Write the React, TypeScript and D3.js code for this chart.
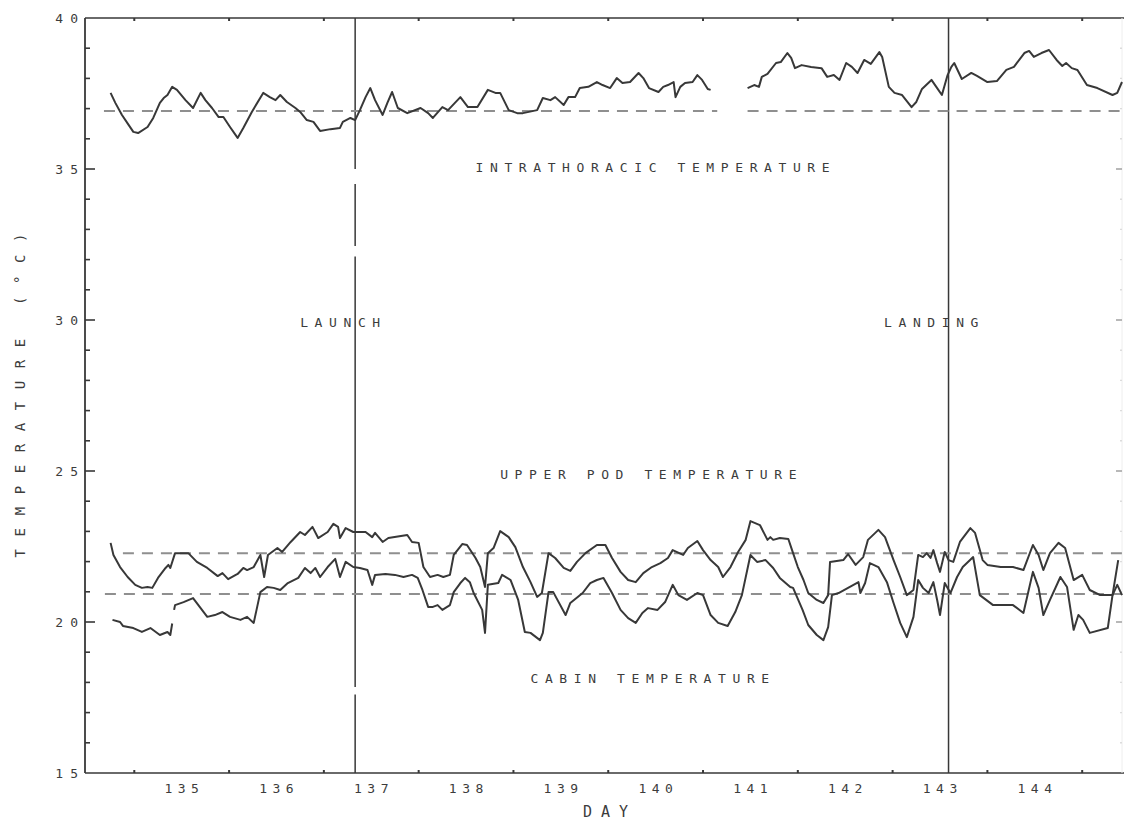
import React from "react";
import { scaleLinear, line, range } from "d3";

const svgWidth = 1124;
const svgHeight = 821;
const margin = { top: 18, right: 2, bottom: 48, left: 85 };
const minorTick = 5;
const majorTick = 10;
const fontFamily = "'DejaVu Sans Mono', 'Liberation Mono', monospace";
const ink = "#383838";

// day-of-year x temperature (°C)
const thoracicBeforeGap: [number, number][] = [
  [134.75, 37.52], [134.8, 37.19], [134.87, 36.79], [134.94, 36.46], [134.99, 36.23],
  [135.04, 36.19], [135.14, 36.39], [135.2, 36.69], [135.27, 37.19], [135.31, 37.35],
  [135.35, 37.45], [135.4, 37.72], [135.45, 37.62], [135.54, 37.28], [135.62, 37.02],
  [135.7, 37.52], [135.75, 37.28], [135.82, 37.02], [135.89, 36.72], [135.94, 36.72],
  [136.01, 36.39], [136.09, 36.03], [136.15, 36.36], [136.24, 36.89], [136.36, 37.52],
  [136.43, 37.38], [136.49, 37.28], [136.54, 37.45], [136.61, 37.22], [136.7, 37.02],
  [136.75, 36.89], [136.82, 36.62], [136.89, 36.56], [136.96, 36.26], [137.07, 36.32],
  [137.17, 36.36], [137.2, 36.56], [137.28, 36.69], [137.33, 36.62], [137.38, 36.95],
  [137.44, 37.38], [137.49, 37.68], [137.54, 37.28], [137.62, 36.79], [137.67, 37.19],
  [137.72, 37.55], [137.78, 37.02], [137.88, 36.85], [138.02, 37.02], [138.1, 36.85],
  [138.15, 36.69], [138.25, 37.05], [138.31, 36.95], [138.44, 37.38], [138.52, 37.05],
  [138.62, 37.05], [138.73, 37.62], [138.81, 37.52], [138.86, 37.52], [138.95, 36.95],
  [139.04, 36.85], [139.1, 36.85], [139.25, 36.95], [139.31, 37.35], [139.39, 37.28],
  [139.44, 37.38], [139.53, 37.12], [139.58, 37.38], [139.65, 37.38], [139.7, 37.68],
  [139.79, 37.72], [139.88, 37.88], [139.94, 37.78], [140.02, 37.68], [140.09, 38.01],
  [140.15, 37.85], [140.23, 37.88], [140.32, 38.18], [140.37, 38.01], [140.43, 37.68],
  [140.53, 37.55], [140.58, 37.72], [140.63, 37.78], [140.69, 37.88], [140.71, 37.38],
  [140.76, 37.72], [140.81, 37.85], [140.89, 37.88], [140.94, 38.11], [140.99, 37.95],
  [141.05, 37.65], [141.08, 37.62],
];

const thoracicAfterGap: [number, number][] = [
  [141.47, 37.68], [141.54, 37.78], [141.59, 37.72], [141.62, 38.05], [141.68, 38.15],
  [141.77, 38.51], [141.82, 38.54], [141.89, 38.84], [141.93, 38.68], [141.97, 38.34],
  [142.04, 38.44], [142.14, 38.38], [142.25, 38.34], [142.31, 38.05], [142.38, 38.11],
  [142.44, 37.95], [142.51, 38.51], [142.57, 38.38], [142.63, 38.18], [142.7, 38.61],
  [142.77, 38.48], [142.86, 38.87], [142.89, 38.71], [142.96, 37.72], [143.02, 37.52],
  [143.1, 37.45], [143.2, 37.05], [143.25, 37.22], [143.31, 37.65], [143.41, 37.95],
  [143.47, 37.68], [143.52, 37.45], [143.58, 38.11], [143.62, 38.38], [143.65, 38.51],
  [143.73, 37.98], [143.83, 38.18], [143.89, 38.08], [144.0, 37.88], [144.1, 37.91],
  [144.2, 38.28], [144.28, 38.38], [144.39, 38.84], [144.44, 38.91], [144.49, 38.71],
  [144.57, 38.84], [144.65, 38.94], [144.73, 38.61], [144.79, 38.41], [144.83, 38.51],
  [144.89, 38.34], [144.95, 38.28], [145.05, 37.78], [145.16, 37.68], [145.32, 37.45],
  [145.37, 37.52], [145.42, 37.88],
];

const upperPod: [number, number][] = [
  [134.75, 22.62], [134.78, 22.22], [134.85, 21.82], [134.93, 21.49], [135.01, 21.23],
  [135.08, 21.13], [135.14, 21.16], [135.19, 21.13], [135.25, 21.46], [135.33, 21.79],
  [135.36, 21.89], [135.38, 21.79], [135.43, 22.28], [135.57, 22.28], [135.66, 21.99],
  [135.77, 21.79], [135.88, 21.52], [135.93, 21.62], [135.99, 21.42], [136.09, 21.59],
  [136.15, 21.79], [136.19, 21.72], [136.26, 21.82], [136.33, 22.22], [136.37, 21.49],
  [136.41, 22.22], [136.51, 22.45], [136.56, 22.32], [136.65, 22.65], [136.75, 22.98],
  [136.8, 22.88], [136.88, 23.15], [136.94, 22.78], [137.04, 22.98], [137.1, 23.25],
  [137.15, 23.15], [137.17, 22.78], [137.23, 23.11], [137.31, 22.98], [137.44, 22.98],
  [137.51, 22.81], [137.54, 22.95], [137.62, 22.65], [137.68, 22.78], [137.88, 22.88],
  [137.93, 22.65], [138.0, 22.62], [138.05, 21.82], [138.12, 21.49], [138.2, 21.56],
  [138.26, 21.49], [138.33, 21.56], [138.37, 22.22], [138.46, 22.58], [138.51, 22.55],
  [138.6, 22.12], [138.65, 21.82], [138.7, 21.16], [138.73, 22.28], [138.79, 22.45],
  [138.86, 23.01], [138.95, 22.81], [139.02, 22.48], [139.1, 21.82], [139.18, 21.32],
  [139.25, 20.83], [139.3, 20.96], [139.37, 22.28], [139.44, 22.12], [139.53, 21.79],
  [139.6, 21.69], [139.67, 21.99], [139.76, 22.28], [139.88, 22.55], [139.97, 22.55],
  [140.04, 22.12], [140.13, 21.66], [140.21, 21.39], [140.29, 21.32], [140.37, 21.62],
  [140.46, 21.82], [140.55, 21.95], [140.63, 22.12], [140.68, 22.38], [140.79, 22.22],
  [140.84, 22.45], [140.94, 22.68], [141.0, 22.38], [141.08, 22.05], [141.16, 21.82],
  [141.21, 21.49], [141.29, 21.82], [141.37, 22.32], [141.45, 22.72], [141.5, 23.34],
  [141.6, 23.21], [141.68, 22.72], [141.71, 22.81], [141.74, 22.72], [141.81, 22.78],
  [141.9, 22.75], [141.95, 22.28], [142.0, 21.82], [142.06, 21.39], [142.11, 20.96],
  [142.2, 20.73], [142.27, 20.63], [142.32, 20.89], [142.34, 21.99], [142.48, 22.05],
  [142.53, 22.25], [142.61, 21.89], [142.69, 22.15], [142.74, 22.72], [142.85, 23.05],
  [142.92, 22.81], [143.01, 22.05], [143.08, 21.49], [143.15, 20.89], [143.22, 21.06],
  [143.27, 22.22], [143.32, 22.15], [143.36, 22.28], [143.4, 22.12], [143.43, 22.38],
  [143.47, 21.95], [143.5, 21.66], [143.55, 22.32], [143.59, 22.05], [143.64, 21.99],
  [143.71, 22.65], [143.82, 23.11], [143.87, 22.95], [143.95, 22.05], [144.0, 21.89],
  [144.14, 21.82], [144.27, 21.82], [144.38, 21.72], [144.48, 22.55], [144.54, 22.22],
  [144.59, 21.72], [144.66, 22.28], [144.75, 22.62], [144.82, 22.45], [144.91, 21.39],
  [145.0, 21.56], [145.08, 21.06], [145.19, 20.89], [145.32, 20.89], [145.38, 22.05],
];

const cabinBeforeGap: [number, number][] = [
  [134.77, 20.07], [134.85, 20.0], [134.88, 19.87], [134.99, 19.8], [135.08, 19.67],
  [135.17, 19.8], [135.27, 19.57], [135.35, 19.67], [135.38, 19.57], [135.4, 19.95],
];

const cabinAfterGap: [number, number][] = [
  [135.42, 20.4], [135.43, 20.56], [135.52, 20.66], [135.62, 20.79], [135.7, 20.46],
  [135.77, 20.17], [135.85, 20.23], [135.93, 20.33], [136.01, 20.17], [136.12, 20.07],
  [136.19, 20.17], [136.26, 19.97], [136.33, 20.99], [136.4, 21.16], [136.47, 21.13],
  [136.54, 21.06], [136.62, 21.29], [136.73, 21.46], [136.8, 21.79], [136.86, 21.62],
  [136.91, 21.79], [136.96, 21.49], [137.04, 21.82], [137.12, 22.09], [137.17, 21.49],
  [137.23, 21.99], [137.31, 21.82], [137.38, 21.79], [137.46, 21.72], [137.51, 21.23],
  [137.54, 21.56], [137.65, 21.59], [137.75, 21.56], [137.84, 21.49], [137.93, 21.56],
  [137.99, 21.46], [138.04, 21.06], [138.1, 20.5], [138.15, 20.5], [138.2, 20.56],
  [138.25, 20.4], [138.33, 20.56], [138.37, 20.99], [138.44, 21.29], [138.49, 21.46],
  [138.54, 21.32], [138.58, 20.96], [138.67, 20.4], [138.7, 19.64], [138.73, 21.23],
  [138.84, 21.29], [138.88, 21.56], [138.97, 21.39], [139.05, 20.73], [139.12, 19.67],
  [139.18, 19.64], [139.28, 19.4], [139.31, 19.64], [139.37, 20.99], [139.42, 20.99],
  [139.55, 20.23], [139.6, 20.63], [139.73, 20.96], [139.81, 21.29], [139.88, 21.39],
  [139.95, 21.46], [140.04, 20.96], [140.13, 20.4], [140.21, 20.13], [140.29, 19.97],
  [140.36, 20.3], [140.42, 20.46], [140.52, 20.4], [140.6, 20.66], [140.68, 21.23],
  [140.74, 20.89], [140.83, 20.73], [140.94, 20.96], [141.0, 20.89], [141.08, 20.23],
  [141.16, 19.97], [141.26, 19.87], [141.34, 20.33], [141.41, 20.89], [141.5, 22.22],
  [141.57, 21.99], [141.66, 22.05], [141.74, 21.79], [141.81, 21.46], [141.92, 21.16],
  [141.95, 21.13], [142.05, 20.4], [142.11, 19.9], [142.2, 19.57], [142.27, 19.4],
  [142.32, 19.83], [142.36, 20.89], [142.43, 20.96], [142.53, 21.13], [142.64, 21.32],
  [142.66, 20.96], [142.71, 21.29], [142.76, 21.95], [142.85, 21.82], [142.94, 21.32],
  [143.01, 20.63], [143.08, 19.97], [143.15, 19.5], [143.22, 20.17], [143.27, 21.39],
  [143.32, 21.13], [143.38, 20.96], [143.43, 21.32], [143.47, 20.73], [143.5, 20.23],
  [143.55, 21.29], [143.61, 20.96], [143.68, 21.49], [143.74, 21.82], [143.85, 22.15],
  [143.92, 20.89], [144.06, 20.56], [144.27, 20.56], [144.38, 20.3], [144.48, 21.66],
  [144.54, 21.13], [144.59, 20.23], [144.66, 20.73], [144.77, 21.49], [144.84, 21.16],
  [144.91, 19.74], [144.96, 20.23], [145.01, 20.07], [145.08, 19.64], [145.27, 19.8],
  [145.32, 20.89], [145.37, 21.23], [145.42, 20.89],
];

// dashed baselines: [temperature, from day, to day]
const baselines: [number, number, number][] = [
  [36.92, 134.68, 141.15],
  [36.92, 141.47, 145.42],
  [22.28, 134.88, 145.42],
  [20.93, 134.69, 145.42],
];

const launchDay = 137.33;
const landingDay = 143.59;
// bits of the launch line that did not print, in °C
const launchGaps: [number, number][] = [[35.0, 34.5], [32.45, 32.1], [17.85, 17.6]];

const dayDomain = [134.48, 145.42];
const tempDomain = [15, 40];
const dayTicks = range(135, 146);
const dayLabels = range(135, 145);
const tempMinorTicks = range(16, 40);
const tempMajorTicks = [15, 20, 25, 30, 35, 40];

const annotations = [
  { text: "INTRATHORACIC TEMPERATURE", day: 138.6, temp: 34.9 },
  { text: "LAUNCH", day: 136.75, temp: 29.77 },
  { text: "LANDING", day: 142.91, temp: 29.77 },
  { text: "UPPER POD TEMPERATURE", day: 138.86, temp: 24.74 },
  { text: "CABIN TEMPERATURE", day: 139.18, temp: 17.98 },
];

export default function App() {
  const xScale = scaleLinear()
    .domain(dayDomain)
    .range([margin.left, svgWidth - margin.right]);
  const yScale = scaleLinear()
    .domain(tempDomain)
    .range([svgHeight - margin.bottom, margin.top]);
  const path = line<[number, number]>()
    .x((d) => xScale(d[0]))
    .y((d) => yScale(d[1]));

  const plotBottom = svgHeight - margin.bottom;
  const plotRight = svgWidth - margin.right;

  // launch line split at the gaps
  const launchSegments: [number, number][] = [];
  let top = tempDomain[1];
  launchGaps.forEach(([hi, lo]) => {
    launchSegments.push([top, hi]);
    top = lo;
  });
  launchSegments.push([top, tempDomain[0]]);

  const textStyle = {
    fontFamily,
    fill: "#3c3c3c",
  };

  return (
    <svg
      width={svgWidth}
      height={svgHeight}
      style={{ position: "absolute", left: 0, top: 0, background: "#fff" }}
    >
      <rect width={svgWidth} height={svgHeight} fill="#fff" />

      {/* frame */}
      <line x1={margin.left} x2={svgWidth} y1={margin.top} y2={margin.top} stroke={ink} strokeWidth={1.6} />
      <line x1={margin.left} x2={svgWidth} y1={plotBottom} y2={plotBottom} stroke={ink} strokeWidth={1.6} />
      <line x1={margin.left} x2={margin.left} y1={margin.top} y2={plotBottom} stroke={ink} strokeWidth={1.8} />
      <line x1={plotRight} x2={plotRight} y1={margin.top} y2={plotBottom} stroke="#eeeeee" strokeWidth={1} />

      {/* day ticks, top and bottom */}
      {dayTicks.map((d) => (
        <g key={`xt-${d}`}>
          <line x1={xScale(d)} x2={xScale(d)} y1={margin.top} y2={margin.top + 3} stroke={ink} strokeWidth={2} />
          <line x1={xScale(d)} x2={xScale(d)} y1={plotBottom} y2={plotBottom - 3} stroke={ink} strokeWidth={2} />
        </g>
      ))}
      {dayLabels.map((d) => (
        <text
          key={`xl-${d}`}
          x={xScale(d + 0.5)}
          dx={2.75}
          y={plotBottom + 20}
          fontSize={13}
          letterSpacing={5.5}
          textAnchor="middle"
          style={textStyle}
        >
          {d}
        </text>
      ))}
      <text x={583} y={plotBottom + 44} fontSize={15} letterSpacing={9} style={textStyle}>
        DAY
      </text>

      {/* temperature ticks */}
      {tempMinorTicks.map((t) => (
        <g key={`ym-${t}`}>
          <line
            x1={margin.left}
            x2={margin.left + (t % 5 === 0 ? majorTick : minorTick)}
            y1={yScale(t)}
            y2={yScale(t)}
            stroke={ink}
            strokeWidth={1.6}
          />
          <line
            x1={plotRight}
            x2={plotRight - (t % 5 === 0 ? 6 : 2)}
            y1={yScale(t)}
            y2={yScale(t)}
            stroke={t % 5 === 0 ? "#9a9a9a" : "#dcdcdc"}
            strokeWidth={1.4}
          />
        </g>
      ))}
      {tempMajorTicks.map((t) => (
        <text
          key={`yl-${t}`}
          x={margin.left}
          y={yScale(t)}
          dy="0.35em"
          fontSize={13}
          letterSpacing={7}
          textAnchor="end"
          style={textStyle}
        >
          {t}
        </text>
      ))}
      <text
        transform={`translate(25,${(margin.top + plotBottom) / 2}) rotate(-90)`}
        fontSize={14}
        letterSpacing={12.6}
        dx={6.3}
        textAnchor="middle"
        style={textStyle}
      >
        TEMPERATURE (°C)
      </text>

      {/* launch and landing */}
      {launchSegments.map(([hi, lo], i) => (
        <line
          key={`launch-${i}`}
          x1={xScale(launchDay)}
          x2={xScale(launchDay)}
          y1={yScale(hi)}
          y2={yScale(lo)}
          stroke={ink}
          strokeWidth={1.5}
        />
      ))}
      <line
        x1={xScale(landingDay)}
        x2={xScale(landingDay)}
        y1={margin.top}
        y2={plotBottom}
        stroke={ink}
        strokeWidth={1.5}
      />

      {/* dashed baselines */}
      {baselines.map(([t, from, to], i) => (
        <line
          key={`base-${i}`}
          x1={xScale(from)}
          x2={xScale(to)}
          y1={yScale(t)}
          y2={yScale(t)}
          stroke="#8f8f8f"
          strokeWidth={2}
          strokeDasharray="11 8"
        />
      ))}

      {/* series */}
      {[thoracicBeforeGap, thoracicAfterGap, upperPod, cabinBeforeGap, cabinAfterGap].map(
        (series, i) => (
          <path
            key={`series-${i}`}
            d={path(series) ?? ""}
            fill="none"
            stroke={ink}
            strokeWidth={2}
            strokeLinejoin="round"
          />
        )
      )}

      {annotations.map((a) => (
        <text
          key={a.text}
          x={xScale(a.day)}
          y={yScale(a.temp)}
          fontSize={13}
          letterSpacing={6.6}
          style={textStyle}
        >
          {a.text}
        </text>
      ))}
    </svg>
  );
}
